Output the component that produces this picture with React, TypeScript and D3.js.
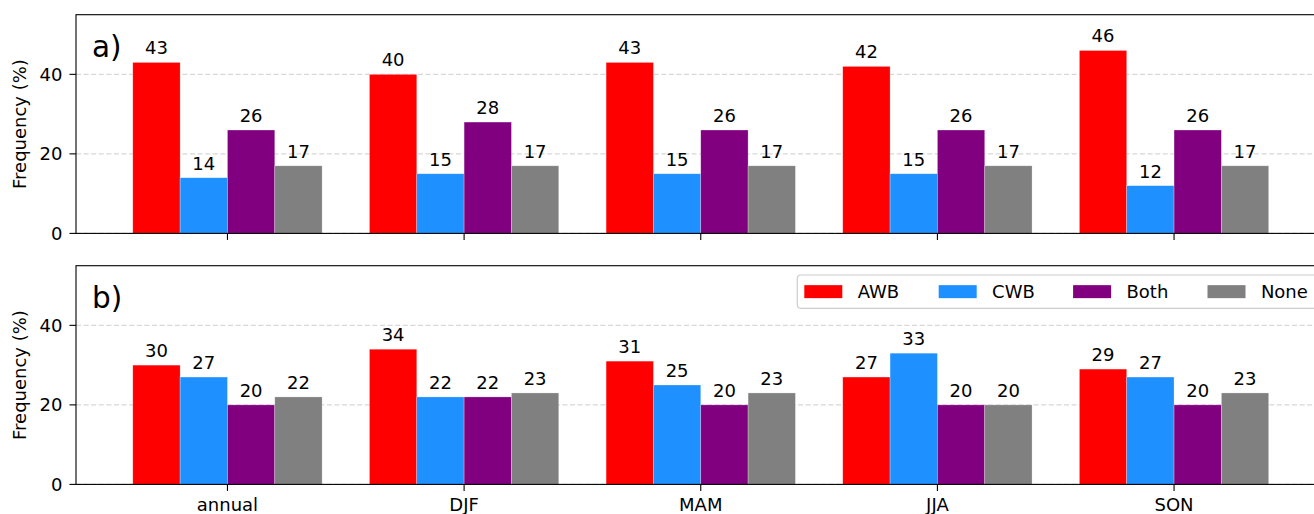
import React from "react";
import * as d3 from "d3";

// Categories, series and ticks
const seasons = ["annual", "DJF", "MAM", "JJA", "SON"];
const seriesNames = ["AWB", "CWB", "Both", "None"];
const seriesColors = ["#ff0000", "#1e90ff", "#800080", "#808080"];
const yTicks = [0, 20, 40];

// Panel a) frequencies (%)
const awbA = [43, 40, 43, 42, 46];
const cwbA = [14, 15, 15, 15, 12];
const bothA = [26, 28, 26, 26, 26];
const noneA = [17, 17, 17, 17, 17];

// Panel b) frequencies (%)
const awbB = [30, 34, 31, 27, 29];
const cwbB = [27, 22, 25, 33, 27];
const bothB = [20, 22, 20, 20, 20];
const noneB = [22, 23, 23, 20, 23];

const panels = [
  { tag: "a)", series: [awbA, cwbA, bothA, noneA], top: 14.7, showLabels: false, legend: false },
  { tag: "b)", series: [awbB, cwbB, bothB, noneB], top: 265.7, showLabels: true, legend: true },
];

const W = 1314;
const H = 514;
const FONT = "DejaVu Sans, sans-serif";
const FS = 18;
const PANEL_H = 218.7;
const LEFT = 76;
const BAR_W = 0.2;

const x = d3.scaleLinear().domain([-0.64, 4.64]).range([LEFT, LEFT + 5.28 * 236.65]);

function Panel({ p }: { p: (typeof panels)[number] }) {
  const y = d3.scaleLinear().domain([0, 55]).range([p.top + PANEL_H, p.top]);
  const bottom = y(0);
  const right = x(4.64);
  const bw = x(BAR_W) - x(0);
  return (
    <g>
      {/* dashed horizontal grid */}
      {yTicks.map((t) => (
        <line
          key={"g" + t}
          x1={LEFT}
          x2={right}
          y1={y(t)}
          y2={y(t)}
          stroke="#d8d8d8"
          strokeWidth={1.2}
          strokeDasharray="5,2.6"
        />
      ))}
      {/* bars and value labels */}
      {p.series.map((vals, s) =>
        vals.map((v, i) => {
          const cx = x(i + (s - 1.5) * BAR_W);
          return (
            <g key={`b${s}-${i}`}>
              <rect
                x={cx - bw / 2}
                y={y(v)}
                width={bw}
                height={bottom - y(v)}
                fill={seriesColors[s]}
                stroke="#ffffff"
                strokeOpacity={0.45}
                strokeWidth={0.6}
              />
              <text
                x={cx}
                y={y(v) - 8}
                textAnchor="middle"
                fontFamily={FONT}
                fontSize={FS}
                fill="#000"
              >
                {v}
              </text>
            </g>
          );
        })
      )}
      {/* frame */}
      <rect
        x={LEFT}
        y={p.top}
        width={right - LEFT}
        height={PANEL_H}
        fill="none"
        stroke="#000"
        strokeWidth={1.1}
      />
      {/* y ticks */}
      {yTicks.map((t) => (
        <g key={"y" + t}>
          <line x1={LEFT - 6.5} x2={LEFT} y1={y(t)} y2={y(t)} stroke="#000" strokeWidth={1.1} />
          <text
            x={LEFT - 13.5}
            y={y(t)}
            textAnchor="end"
            dominantBaseline="central"
            fontFamily={FONT}
            fontSize={FS}
            fill="#000"
          >
            {t}
          </text>
        </g>
      ))}
      {/* x ticks */}
      {seasons.map((name, i) => (
        <g key={"x" + name}>
          <line x1={x(i)} x2={x(i)} y1={bottom} y2={bottom + 6.5} stroke="#000" strokeWidth={1.1} />
          {p.showLabels && (
            <text
              x={x(i)}
              y={bottom + 26.7}
              textAnchor="middle"
              fontFamily={FONT}
              fontSize={FS}
              fill="#000"
            >
              {name}
            </text>
          )}
        </g>
      ))}
      {/* y-axis title */}
      <text
        transform={`translate(26,${(p.top + bottom) / 2}) rotate(-90)`}
        textAnchor="middle"
        fontFamily={FONT}
        fontSize={FS}
        fill="#000"
      >
        Frequency (%)
      </text>
      {/* panel tag */}
      <text x={92} y={p.top + 41.8} fontFamily={FONT} fontSize={29.5} fill="#000">
        {p.tag}
      </text>
      {p.legend && <Legend top={p.top} />}
    </g>
  );
}

function Legend({ top }: { top: number }) {
  const boxX = 797.3;
  const boxY = top + 9.3;
  const boxH = 33.3;
  const cy = boxY + boxH / 2;
  return (
    <g>
      <rect
        x={boxX}
        y={boxY}
        width={560}
        height={boxH}
        rx={3.5}
        fill="#ffffff"
        fillOpacity={0.8}
        stroke="#cccccc"
        strokeWidth={1.2}
      />
      {seriesNames.map((name, s) => {
        const px = 804.3 + s * 134.4;
        return (
          <g key={name}>
            <rect x={px} y={cy - 6.5} width={38} height={13} fill={seriesColors[s]} />
            <text
              x={px + 53.4}
              y={cy}
              dominantBaseline="central"
              fontFamily={FONT}
              fontSize={FS}
              fill="#000"
            >
              {name}
            </text>
          </g>
        );
      })}
    </g>
  );
}

export default function App() {
  return (
    <svg
      width={W}
      height={H}
      viewBox={`0 0 ${W} ${H}`}
      style={{ position: "absolute", left: 0, top: 0, background: "#fff" }}
    >
      <rect x={0} y={0} width={W} height={H} fill="#fff" />
      {panels.map((p) => (
        <Panel key={p.tag} p={p} />
      ))}
    </svg>
  );
}
